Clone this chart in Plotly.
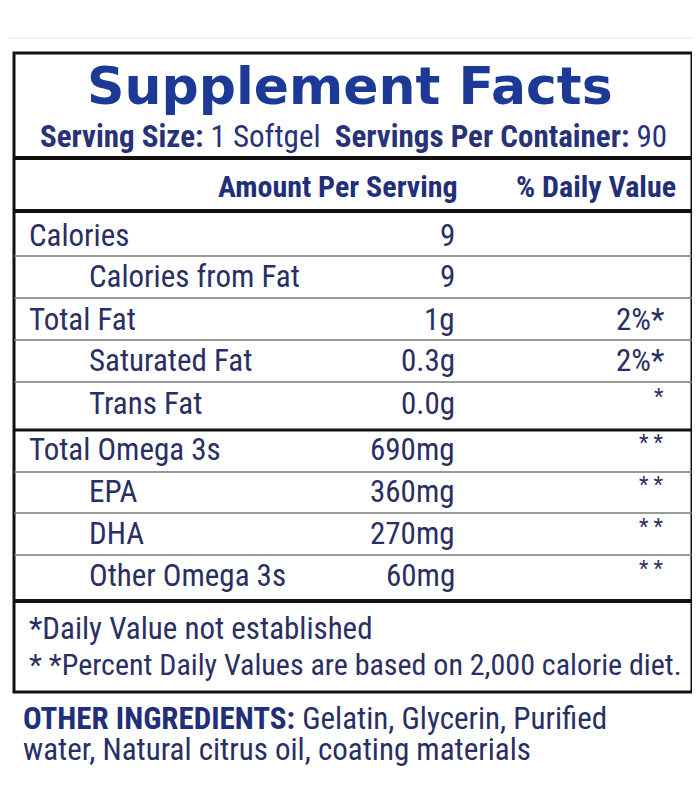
import plotly.graph_objects as go

nutrients = ["Calories", "Calories from Fat", "Total Fat", "Saturated Fat", "Trans Fat",
             "Total Omega 3s", "EPA", "DHA", "Other Omega 3s"]
amounts = ["9", "9", "1g", "0.3g", "0.0g", "690mg", "360mg", "270mg", "60mg"]
daily = ["", "", "2%*", "2%*", "*", "* *", "* *", "* *", "* *"]
indent = [False, True, False, True, True, False, True, True, True]
row_y = [235, 276, 319, 360, 403, 449, 491, 533, 575]
footnotes = ["*Daily Value not established",
             "* *Percent Daily Values are based on 2,000 calorie diet."]

navy = "#2a2f63"
blue = "#1c3a95"
cond = "Liberation Sans Narrow, Roboto Condensed, Roboto"

fig = go.Figure()
shapes = []
ann = []

def line(y, w, c="#111"):
    shapes.append(dict(type="line", x0=14, x1=692, y0=y, y1=y, line=dict(color=c, width=w)))

shapes.append(dict(type="line", x0=0, x1=700, y0=38, y1=38, line=dict(color="#e6e6e6", width=1)))
shapes.append(dict(type="rect", x0=14, x1=692, y0=53, y1=692, line=dict(color="#111", width=3)))
line(158, 4)
line(211, 4)
for y in [256, 298, 340, 382, 472, 513, 555]:
    line(y, 1.5, "#777")
line(430, 3)
line(601, 4)

ann.append(dict(x=350, y=86, text="<b>Supplement Facts</b>", font=dict(size=52, color=blue, family="DejaVu Sans")))
ann.append(dict(x=353, y=136, text="<b>Serving Size:</b> 1 Softgel  <b>Servings Per Container:</b> 90",
                font=dict(size=31, color="#283279", family=cond)))
ann.append(dict(x=460, y=186, xanchor="right", text="<b>Amount Per Serving</b>", font=dict(size=30, color="#1f2f7a", family=cond)))
ann.append(dict(x=678, y=186, xanchor="right", text="<b>% Daily Value</b>", font=dict(size=30, color="#1f2f7a", family=cond)))

for n, a, d, ind, y in zip(nutrients, amounts, daily, indent, row_y):
    ann.append(dict(x=87 if ind else 27, y=y, xanchor="left", text=n, font=dict(size=31, color=navy, family=cond)))
    ann.append(dict(x=457, y=y, xanchor="right", text=a, font=dict(size=31, color=navy, family=cond)))
    if d:
        ann.append(dict(x=666, y=y - (7 if "%" not in d else 0), xanchor="right", text=d,
                        font=dict(size=31 if "%" in d else 22, color=navy, family=cond)))

ann.append(dict(x=27, y=628, xanchor="left", text=footnotes[0], font=dict(size=31, color=navy, family=cond)))
ann.append(dict(x=27, y=664, xanchor="left", text=footnotes[1], font=dict(size=30, color=navy, family=cond)))
ann.append(dict(x=21, y=718, xanchor="left", text="<b><span style='color:#1f2f7a'>OTHER INGREDIENTS:</span></b> Gelatin, Glycerin, Purified",
                font=dict(size=31, color=navy, family=cond)))
ann.append(dict(x=21, y=749, xanchor="left", text="water, Natural citrus oil, coating materials",
                font=dict(size=31, color=navy, family=cond)))

for a in ann:
    a.update(xref="x", yref="y", showarrow=False)
    a.setdefault("xanchor", "center")
    a["yanchor"] = "middle"

# the page body adds an 8px offset, so shift the ranges to compensate
fig.update_layout(width=700, height=804, margin=dict(l=0, r=0, t=0, b=0),
                  plot_bgcolor="white", paper_bgcolor="white", shapes=shapes, annotations=ann,
                  xaxis=dict(range=[8, 708], visible=False, fixedrange=True),
                  yaxis=dict(range=[812, 8], visible=False, fixedrange=True), showlegend=False)
fig.write_html("out.html")
